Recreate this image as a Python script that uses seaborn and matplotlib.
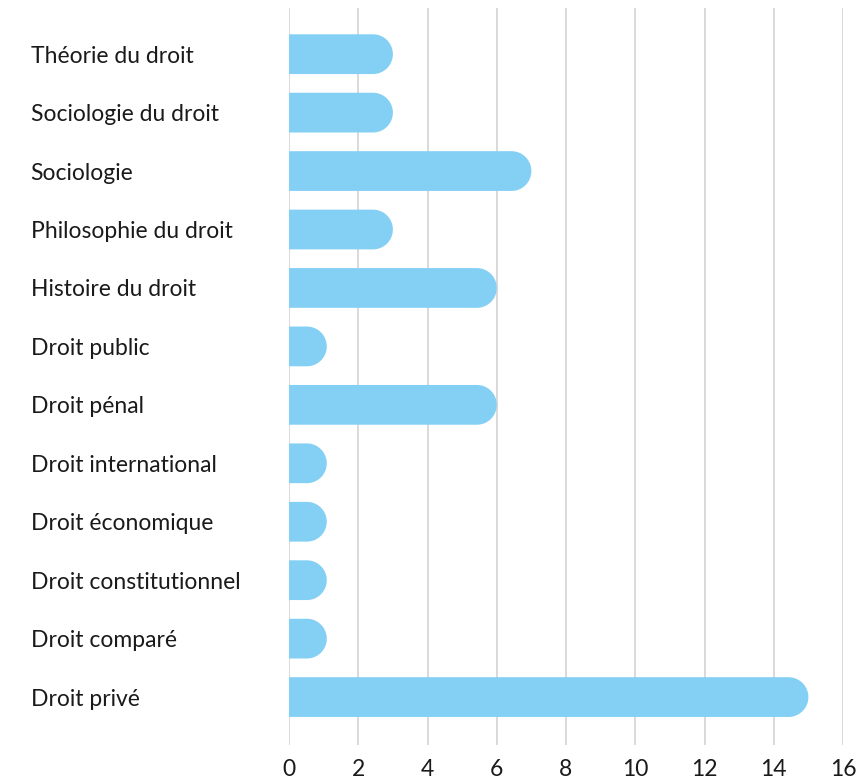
import matplotlib
matplotlib.use("Agg")
import matplotlib.pyplot as plt
from matplotlib.patches import Polygon
import numpy as np
import pandas as pd
import seaborn as sns

disciplines = [
    "Théorie du droit", "Sociologie du droit", "Sociologie", "Philosophie du droit",
    "Histoire du droit", "Droit public", "Droit pénal", "Droit international",
    "Droit économique", "Droit constitutionnel", "Droit comparé", "Droit privé",
]
effectifs = [3, 3, 7, 3, 6, 1, 6, 1, 1, 1, 1, 15]

couleur = "#84cff4"
texte = "#1a1a1a"

df = pd.DataFrame({"discipline": disciplines, "n": effectifs})

sns.set_style("white")
plt.rcParams["font.family"] = ["Lato", "DejaVu Sans"]

fig = plt.figure(figsize=(8.64, 7.83), dpi=100)
ax = fig.add_axes([289 / 864, 1 - 745 / 783, (843 - 289) / 864, (745 - 8) / 783])

sns.barplot(data=df, x="n", y="discipline", color=couleur, width=0.68,
            saturation=1, ax=ax, zorder=2)

ax.set_xlim(0, 16)
ax.set_ylim(11.82, -0.79)

# barres arrondies a droite : un seul contour (rectangle + demi-cercle a l'ecran)
px_x = ax.bbox.width / 16
px_y = ax.bbox.height / (11.82 + 0.79)
t = np.linspace(-np.pi / 2, np.pi / 2, 60)
for p in list(ax.patches):
    y0, w, h = p.get_y(), p.get_width(), p.get_height()
    r_x = (h * px_y / 2) / px_x
    fin = max(w, 1.9 * r_x)
    cx, cy = fin - r_x, y0 + h / 2
    arc = np.column_stack([cx + r_x * np.cos(t), cy + (h / 2) * np.sin(t)])
    contour = np.vstack([[-1, y0], arc, [-1, y0 + h]])
    ax.add_patch(Polygon(contour, closed=True, facecolor=couleur,
                         edgecolor="none", zorder=2))
    p.remove()

ax.set_xticks(range(0, 17, 2))
ax.grid(axis="x", color="#d9d9d9", linewidth=1.4, zorder=0)
ax.grid(axis="y", visible=False)
for s in ax.spines.values():
    s.set_visible(False)

ax.set_xlabel("")
ax.set_ylabel("")
ax.tick_params(axis="both", length=0, labelsize=16.5, colors=texte)
ax.tick_params(axis="x", pad=10)
ax.tick_params(axis="y", pad=186)
for lab in ax.get_yticklabels():
    lab.set_horizontalalignment("left")

fig.savefig("out.png", dpi=100)
